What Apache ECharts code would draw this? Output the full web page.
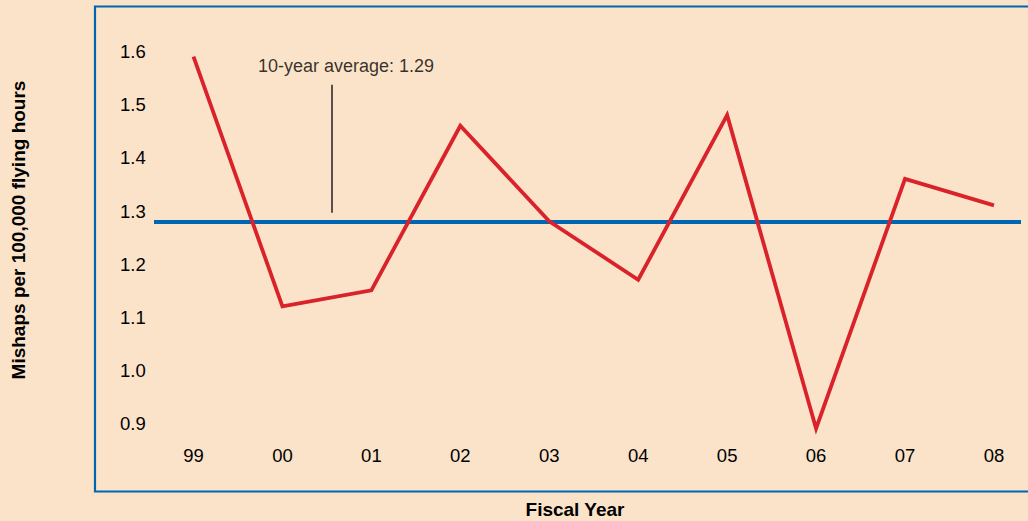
<!DOCTYPE html>
<html>
<head>
<meta charset="utf-8">
<script src="https://cdn.jsdelivr.net/npm/echarts@6/dist/echarts.min.js"></script>
<style>
  html, body { margin: 0; padding: 0; background: #FBE3C9; }
  #chart { width: 1028px; height: 521px; }
</style>
</head>
<body>
<div id="chart"></div>
<script>
// ---- data ----
const fiscalYears = ['99', '00', '01', '02', '03', '04', '05', '06', '07', '08'];
const mishapRates = [1.60, 1.13, 1.16, 1.47, 1.29, 1.18, 1.49, 0.90, 1.37, 1.32];
const tenYearAverage = 1.29;
const yTickValues = [0.9, 1.0, 1.1, 1.2, 1.3, 1.4, 1.5, 1.6];
const yAxisTitle = 'Mishaps per 100,000 flying hours';
const xAxisTitle = 'Fiscal Year';
const annotationText = '10-year average: 1.29';

// ---- layout / style ----
const FONT = '"Liberation Sans", Arial, Helvetica, sans-serif';
const PEACH = '#FBE3C9';
const BLUE = '#0066B3';
const RED = '#D9222A';
const INK = '#000000';

const chart = echarts.init(document.getElementById('chart'), null, { renderer: 'svg' });

const lineData = mishapRates.map((v, i) => [i, v]);
const xIdx = fiscalYears.map((_, i) => i);

const option = {
  backgroundColor: PEACH,
  animation: false,
  grid: [
    { left: 154, right: 7, top: 3.6, bottom: 39.5, outerBoundsMode: 'none', containLabel: false },
    { left: 95, right: -20, top: 6.5, bottom: 29.5, show: true, borderColor: BLUE, borderWidth: 2.2,
      backgroundColor: 'transparent', outerBoundsMode: 'none', containLabel: false }
  ],
  xAxis: [
    {
      type: 'value', gridIndex: 0, min: -0.444, max: 9.304,
      axisLine: { show: false }, axisTick: { show: false }, splitLine: { show: false },
      axisLabel: {
        show: true, inside: true, margin: 17,
        customValues: xIdx,
        formatter: (v) => fiscalYears[Math.round(v)] ?? '',
        color: INK, fontFamily: FONT, fontSize: 18.5, verticalAlign: 'bottom'
      }
    },
    { type: 'value', gridIndex: 1, show: false, min: 0, max: 1 }
  ],
  yAxis: [
    {
      type: 'value', gridIndex: 0, min: 0.8, max: 1.7,
      axisLine: { show: false }, axisTick: { show: false }, splitLine: { show: false },
      axisLabel: {
        customValues: yTickValues,
        formatter: (v) => v.toFixed(1),
        align: 'left', margin: 34, verticalAlign: 'bottom', lineHeight: 10,
        color: INK, fontFamily: FONT, fontSize: 18.5
      }
    },
    { type: 'value', gridIndex: 1, show: false, min: 0, max: 1 }
  ],
  graphic: [
    {
      type: 'text', x: 18, y: 230, rotation: Math.PI / 2,
      style: { text: yAxisTitle, fill: INK, font: 'bold 19px ' + FONT,
               textAlign: 'center', textVerticalAlign: 'middle' }
    },
    {
      type: 'text', x: 575, y: 509,
      style: { text: xAxisTitle, fill: INK, font: 'bold 19px ' + FONT,
               textAlign: 'center', textVerticalAlign: 'middle' }
    }
  ],
  series: [
    {
      type: 'line', xAxisIndex: 0, yAxisIndex: 0,
      data: lineData, symbol: 'none', z: 3,
      lineStyle: { color: RED, width: 3.8, join: 'miter' },
      markLine: {
        silent: true, symbol: 'none', z: 2,
        label: { show: false },
        lineStyle: { color: BLUE, width: 4, type: 'solid' },
        data: [{ yAxis: tenYearAverage }]
      }
    },
    {
      type: 'line', xAxisIndex: 0, yAxisIndex: 0, z: 2,
      data: [], symbol: 'none',
      markLine: {
        silent: true, symbol: 'none',
        label: { show: false },
        lineStyle: { color: '#231F20', width: 1.5, type: 'solid' },
        data: [[{ coord: [1.56, 1.306] }, { coord: [1.56, 1.547] }]]
      }
    },
    {
      type: 'scatter', xAxisIndex: 0, yAxisIndex: 0, symbolSize: 0,
      data: [[1.715, 1.582]],
      label: { show: true, position: 'inside', formatter: annotationText,
               color: INK, fontFamily: FONT, fontSize: 18 }
    }
  ]
};
chart.setOption(option);
</script>
</body>
</html>
